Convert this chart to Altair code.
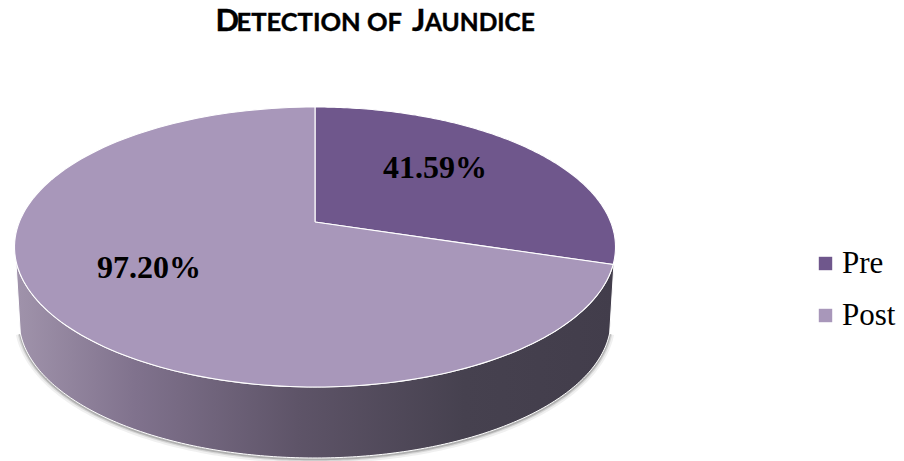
import numpy as np
import pandas as pd
import altair as alt

categories = ["Pre", "Post"]
labels = ["41.59%", "97.20%"]
drawn_shares = [27.0, 73.0]   # visible slice shares
colors = ["#6f578c", "#a897ba"]
W, H = 888, 453

CX, CY, RX, RY = 307, 239, 300.5, 140   # top ellipse in chart px
AX, AY = 307, 214                        # perspective apex
BCX, BCY, BRX, BRY = 307, 312, 296, 138  # bottom rim


def ell(t, cx=CX, cy=CY, rx=RX, ry=RY):
    return cx + rx * np.sin(t), cy - ry * np.cos(t)


rows = []
start = 0.0
for cat, sh in zip(categories, drawn_shares):
    a0, a1 = start, start + sh / 100 * 2 * np.pi
    ts = np.linspace(a0, a1, 160)
    x, y = ell(ts)
    xs = [AX] + list(x) + [AX]
    ys = [AY] + list(y) + [AY]
    for i, (a, b) in enumerate(zip(xs, ys)):
        rows.append({"slice": cat, "i": i, "x": a, "y": b})
    start = a1
slices = pd.DataFrame(rows)

t1 = np.linspace(np.pi * 0.53, np.pi * 1.47, 200)
tx, ty = ell(t1)
bx, by = ell(t1[::-1], BCX, BCY, BRX, BRY)
wall = pd.DataFrame({"x": np.r_[tx, bx, tx[0]], "y": np.r_[ty, by, ty[0]]})
wall["i"] = range(len(wall))

shadow = pd.DataFrame({"x": bx + 0, "y": by + 1})
shadow["i"] = range(len(shadow))

X = alt.X("x:Q", scale=alt.Scale(domain=[0, W], nice=False, zero=False), axis=None)
Y = alt.Y("y:Q", scale=alt.Scale(domain=[H, 0], nice=False, zero=False), axis=None)

shadow_layers = [
    alt.Chart(shadow).mark_line(color="#000000", opacity=op, strokeWidth=sw).encode(x=X, y=Y, order="i:Q")
    for op, sw in [(0.06, 9), (0.10, 5), (0.18, 2.5)]
]

wall_mark = alt.Chart(wall).mark_line(
    stroke="#ffffff", strokeWidth=1,
    fill=alt.Gradient(
        gradient="linear", x1=0, x2=1, y1=0, y2=0,
        stops=[
            alt.GradientStop(offset=0, color="#a093ab"),
            alt.GradientStop(offset=0.2, color="#80728d"),
            alt.GradientStop(offset=0.47, color="#5e5468"),
            alt.GradientStop(offset=0.75, color="#46414f"),
            alt.GradientStop(offset=1, color="#423d4b"),
        ],
    ),
).encode(x=X, y=Y, order="i:Q")

color_scale = alt.Scale(domain=categories, range=colors)
pie = alt.Chart(slices).mark_line(stroke="#ffffff", strokeWidth=1.1).encode(
    x=X, y=Y, order="i:Q",
    fill=alt.Fill("slice:N", scale=color_scale, legend=alt.Legend(
        title=None, orient="none", legendX=802, legendY=240,
        symbolType="square", symbolSize=180, symbolStrokeWidth=0,
        labelFont="Liberation Serif", labelFontSize=31, labelColor="#000000",
        labelOffset=1, rowPadding=20, labelLimit=200,
    )),
)

label_df = pd.DataFrame({"label": labels, "x": [427, 141], "y": [160, 260]})
label_mark = alt.Chart(label_df).mark_text(
    font="Liberation Serif", fontWeight="bold", fontSize=32, color="#000000",
    align="center", baseline="middle",
).encode(x=X, y=Y, text="label:N")

title_parts = [("D", 31, 207.5), ("ETECTION OF", 25.5, 228.5), ("J", 31, 404), ("AUNDICE", 24.5, 417)]
title_layers = [
    alt.Chart(pd.DataFrame({"t": [t]})).mark_text(
        font="Lato", fontWeight="bold", fontSize=fs, color="#000000",
        stroke="#000000", strokeWidth=0.4,
        align="left", baseline="alphabetic",
    ).encode(x=alt.value(px), y=alt.value(23), text="t:N")
    for t, fs, px in title_parts
]

chart = alt.layer(*shadow_layers, wall_mark, pie, label_mark, *title_layers).properties(
    width=W, height=H, padding=0, autosize=alt.AutoSizeParams(type="none"), background="#ffffff",
).configure_view(stroke=None)

chart.save("out.html", embed_options={"renderer": "svg", "actions": False})
